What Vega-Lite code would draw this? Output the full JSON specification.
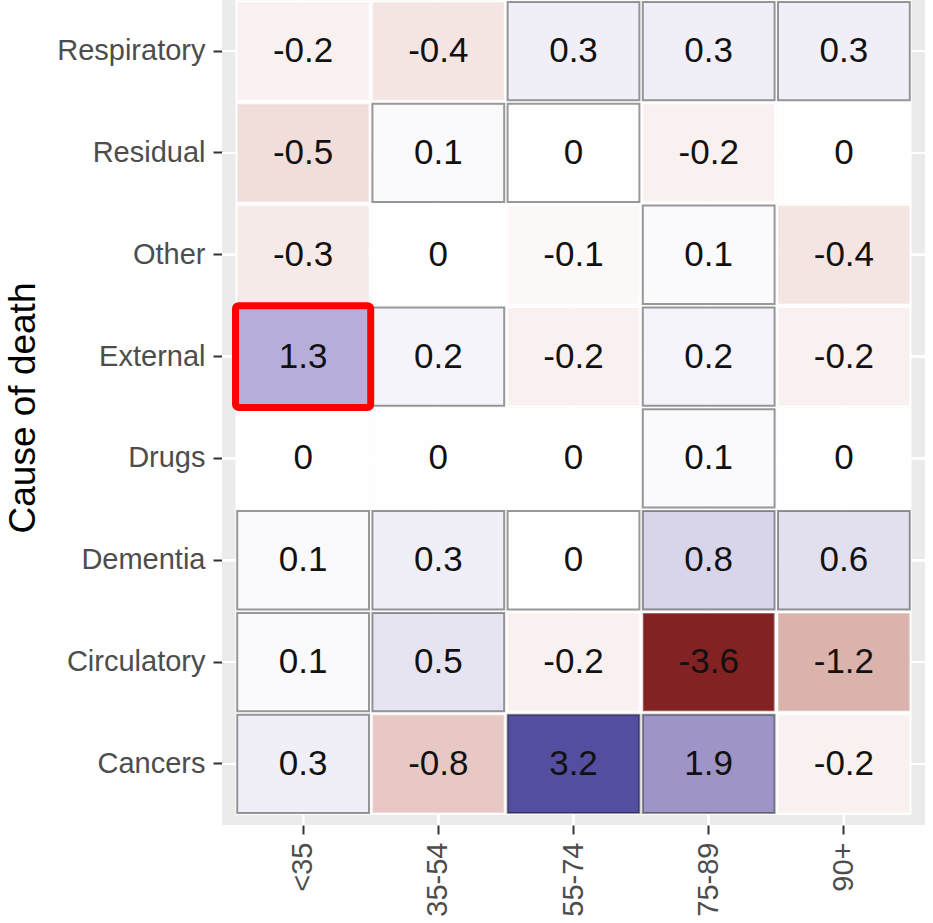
{
  "$schema": "https://vega.github.io/schema/vega-lite/v6.json",
  "autosize": "none",
  "width": 703,
  "height": 835,
  "padding": {"left": 222, "top": -10, "right": 8, "bottom": 98},
  "background": "#FFFFFF",
  "config": {
    "view": {"fill": "#EBEBEB", "stroke": null},
    "font": "Liberation Sans",
    "axis": {
      "labelFont": "Liberation Sans",
      "labelFontSize": 29,
      "labelColor": "#4D4D4D",
      "tickColor": "#333333",
      "tickWidth": 2,
      "tickSize": 9,
      "labelPadding": 8,
      "domain": false,
      "grid": false,
      "bandPosition": 0.5,
      "titleFont": "Liberation Sans",
      "titleFontSize": 37,
      "titleFontWeight": "normal",
      "titleColor": "#000000"
    }
  },
  "datasets": {
    "cells": [
      {"cause": "Respiratory", "age": "<35", "value": -0.2, "label": "-0.2"},
      {"cause": "Respiratory", "age": "35-54", "value": -0.4, "label": "-0.4"},
      {"cause": "Respiratory", "age": "55-74", "value": 0.3, "label": "0.3"},
      {"cause": "Respiratory", "age": "75-89", "value": 0.3, "label": "0.3"},
      {"cause": "Respiratory", "age": "90+", "value": 0.3, "label": "0.3"},
      {"cause": "Residual", "age": "<35", "value": -0.5, "label": "-0.5"},
      {"cause": "Residual", "age": "35-54", "value": 0.1, "label": "0.1"},
      {"cause": "Residual", "age": "55-74", "value": 0.02, "label": "0"},
      {"cause": "Residual", "age": "75-89", "value": -0.2, "label": "-0.2"},
      {"cause": "Residual", "age": "90+", "value": -0.02, "label": "0"},
      {"cause": "Other", "age": "<35", "value": -0.3, "label": "-0.3"},
      {"cause": "Other", "age": "35-54", "value": -0.02, "label": "0"},
      {"cause": "Other", "age": "55-74", "value": -0.1, "label": "-0.1"},
      {"cause": "Other", "age": "75-89", "value": 0.1, "label": "0.1"},
      {"cause": "Other", "age": "90+", "value": -0.4, "label": "-0.4"},
      {"cause": "External", "age": "<35", "value": 1.3, "label": "1.3"},
      {"cause": "External", "age": "35-54", "value": 0.2, "label": "0.2"},
      {"cause": "External", "age": "55-74", "value": -0.2, "label": "-0.2"},
      {"cause": "External", "age": "75-89", "value": 0.2, "label": "0.2"},
      {"cause": "External", "age": "90+", "value": -0.2, "label": "-0.2"},
      {"cause": "Drugs", "age": "<35", "value": -0.01, "label": "0"},
      {"cause": "Drugs", "age": "35-54", "value": -0.01, "label": "0"},
      {"cause": "Drugs", "age": "55-74", "value": -0.01, "label": "0"},
      {"cause": "Drugs", "age": "75-89", "value": 0.1, "label": "0.1"},
      {"cause": "Drugs", "age": "90+", "value": -0.01, "label": "0"},
      {"cause": "Dementia", "age": "<35", "value": 0.1, "label": "0.1"},
      {"cause": "Dementia", "age": "35-54", "value": 0.3, "label": "0.3"},
      {"cause": "Dementia", "age": "55-74", "value": 0.02, "label": "0"},
      {"cause": "Dementia", "age": "75-89", "value": 0.8, "label": "0.8"},
      {"cause": "Dementia", "age": "90+", "value": 0.6, "label": "0.6"},
      {"cause": "Circulatory", "age": "<35", "value": 0.1, "label": "0.1"},
      {"cause": "Circulatory", "age": "35-54", "value": 0.5, "label": "0.5"},
      {"cause": "Circulatory", "age": "55-74", "value": -0.2, "label": "-0.2"},
      {"cause": "Circulatory", "age": "75-89", "value": -3.6, "label": "-3.6"},
      {"cause": "Circulatory", "age": "90+", "value": -1.2, "label": "-1.2"},
      {"cause": "Cancers", "age": "<35", "value": 0.3, "label": "0.3"},
      {"cause": "Cancers", "age": "35-54", "value": -0.8, "label": "-0.8"},
      {"cause": "Cancers", "age": "55-74", "value": 3.2, "label": "3.2"},
      {"cause": "Cancers", "age": "75-89", "value": 1.9, "label": "1.9"},
      {"cause": "Cancers", "age": "90+", "value": -0.2, "label": "-0.2"}
    ],
    "highlight": [
      {"cause": "External", "age": "<35"}
    ]
  },
  "encoding": {
    "x": {
      "field": "age",
      "type": "nominal",
      "sort": ["<35", "35-54", "55-74", "75-89", "90+"],
      "scale": {"paddingInner": 0, "paddingOuter": 0.1},
      "axis": {"title": null, "labelAngle": -90}
    },
    "y": {
      "field": "cause",
      "type": "nominal",
      "sort": ["Respiratory", "Residual", "Other", "External", "Drugs", "Dementia", "Circulatory", "Cancers"],
      "scale": {"paddingInner": 0, "paddingOuter": 0.1},
      "axis": {"title": "Cause of death", "titlePadding": 14}
    }
  },
  "layer": [
    {
      "data": {"name": "cells"},
      "mark": {"type": "rule", "color": "#FFFFFF", "strokeWidth": 2},
      "encoding": {"y": null}
    },
    {
      "data": {"name": "cells"},
      "mark": {"type": "rule", "color": "#FFFFFF", "strokeWidth": 2},
      "encoding": {"x": null}
    },
    {
      "data": {"name": "cells"},
      "mark": {"type": "rect", "fill": "#FFFFFF", "stroke": null}
    },
    {
      "data": {"name": "cells"},
      "mark": {"type": "rect", "width": {"band": 0.975}, "height": {"band": 0.965}, "strokeWidth": 2},
      "encoding": {
        "fill": {
          "field": "value",
          "type": "quantitative",
          "scale": {
            "domain": [-3.6, -1.2, -0.8, 0, 0.8, 1.3, 1.9, 3.2, 3.6],
            "range": ["#822222", "#DBB3AD", "#E8C8C4", "#FFFFFF", "#D8D4EA", "#B6AED8", "#9F94C8", "#534EA0", "#3F3A94"],
            "interpolate": "rgb"
          },
          "legend": null
        },
        "stroke": {"condition": {"test": "datum.value > 0", "value": "#000000"}, "value": "#FFFFFF"},
        "strokeOpacity": {"condition": {"test": "datum.value > 0", "value": 0.4}, "value": 0.3}
      }
    },
    {
      "data": {"name": "cells"},
      "mark": {"type": "text", "font": "Liberation Sans", "fontSize": 35, "color": "#111111", "baseline": "middle", "align": "center"},
      "encoding": {"text": {"field": "label", "type": "nominal"}}
    },
    {
      "data": {"name": "highlight"},
      "mark": {"type": "rect", "filled": false, "stroke": "#FF0000", "strokeWidth": 7, "cornerRadius": 3},
      "encoding": {}
    }
  ]
}
